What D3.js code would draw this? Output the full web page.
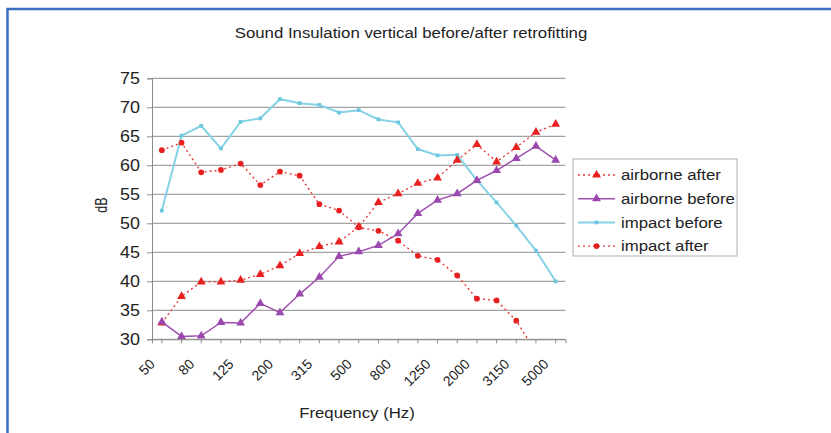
<!DOCTYPE html>
<html><head><meta charset="utf-8">
<script src="https://cdn.jsdelivr.net/npm/d3@7"></script>
<style>
body{margin:0;background:#fff;}
svg{display:block;font-family:Arial,"Liberation Sans",sans-serif;}
</style></head>
<body>
<svg id="c" width="831" height="433"></svg>
<script>
const categories = ["50","63","80","100","125","160","200","250","315","400","500","630","800","1000","1250","1600","2000","2500","3150","4000","5000"];
const tickLabels = ["50","80","125","200","315","500","800","1250","2000","3150","5000"];
const yTicks = [30,35,40,45,50,55,60,65,70,75];
const airborneAfter  = [32.8,37.4,39.9,39.9,40.2,41.2,42.7,44.8,46.0,46.8,49.4,53.6,55.1,56.9,57.8,60.9,63.6,60.6,63.1,65.7,67.1];
const airborneBefore = [33.0,30.5,30.6,32.9,32.8,36.2,34.6,37.8,40.7,44.3,45.1,46.2,48.2,51.7,54.0,55.1,57.4,59.1,61.2,63.3,60.9];
const impactBefore   = [52.2,65.1,66.8,62.9,67.5,68.1,71.4,70.7,70.4,69.1,69.5,67.9,67.4,62.8,61.7,61.8,57.4,53.6,49.6,45.3,40.0];
const impactAfter    = [62.6,63.9,58.8,59.2,60.3,56.6,58.9,58.2,53.3,52.2,49.3,48.7,47.0,44.4,43.7,41.0,37.0,36.7,33.2,27.8,25.0];
const seriesNames = ["airborne after","airborne before","impact before","impact after"];

const SX = 1.12; // horizontal stretch of the reference picture
const svg = d3.select("#c");
// frame
svg.append("rect").attr("x",7.5).attr("y",9).attr("width",840).attr("height",440)
  .attr("fill","none").attr("stroke","#3b6dbf").attr("stroke-width",2.5);

const x = d3.scaleBand().domain(categories).range([152,565.5]).padding(0);
const y = d3.scaleLinear().domain([30,75]).range([339.3,78.3]);
const cx = d => x(d) + x.bandwidth()/2;

function stext(g, tx, ty, anchor, size, str){
  return g.append("text").attr("transform",`translate(${tx},${ty}) scale(${SX},1)`)
    .attr("text-anchor",anchor).attr("font-size",size).attr("fill","#222").text(str);
}

// title
stext(svg, 411, 38, "middle", 15, "Sound Insulation vertical before/after retrofitting");

// grid
svg.append("g").selectAll("line").data(yTicks).join("line")
  .attr("x1",152).attr("x2",565.5).attr("y1",d=>y(d)).attr("y2",d=>y(d))
  .attr("stroke","#8c8c8c").attr("stroke-width",1);

// y axis
const ya = svg.append("g").attr("transform","translate(152,0)")
  .call(d3.axisLeft(y).tickValues(yTicks).tickSize(5).tickFormat(""));
ya.select(".domain").attr("stroke","#8c8c8c");
ya.selectAll(".tick line").attr("stroke","#8c8c8c");
const yl = svg.append("g");
yTicks.forEach(v=>{
  stext(yl, 140, y(v), "end", 16, String(v)).attr("dy","0.36em");
});

// x axis
const xa = svg.append("g").attr("transform","translate(0,339.3)")
  .call(d3.axisBottom(x).tickValues(categories).tickSize(4).tickFormat(""));
xa.select(".domain").attr("stroke","#8c8c8c");
xa.selectAll(".tick line").attr("stroke","#8c8c8c");
svg.append("g").selectAll("text").data(tickLabels).join("text")
  .attr("transform",d=>`translate(${cx(d)-9.5},361.5) rotate(-45)`)
  .attr("text-anchor","end").attr("dy","0.35em")
  .attr("font-size",14).attr("fill","#222").text(d=>d);

// axis titles
svg.append("text").attr("transform","translate(101.5,205) scale(1.25,1) rotate(-90)").attr("text-anchor","middle")
  .attr("dy","0.35em").attr("font-size",12.5).attr("fill","#222").text("dB");
stext(svg, 357, 418, "middle", 15, "Frequency (Hz)");

// clip
svg.append("clipPath").attr("id","pc").append("rect")
  .attr("x",140).attr("y",70).attr("width",440).attr("height",339.3-70);

const plot = svg.append("g").attr("clip-path","url(#pc)");
const line = d3.line().x((d,i)=>cx(categories[i])).y(d=>y(d));
const tri = d3.symbol().type(d3.symbolTriangle).size(34);
const dot = d3.symbol().type(d3.symbolCircle).size(26);
const sq = d3.symbol().type(d3.symbolSquare).size(14);

const specs = [
  {data:impactBefore, color:"#85d2e6", dash:null, width:2, sym:sq, fill:"#6cc8de"},
  {data:impactAfter, color:"#e83a3a", dash:"2,3", width:1.4, sym:dot, fill:"#e82020"},
  {data:airborneAfter, color:"#e83a3a", dash:"2,3", width:1.4, sym:tri, fill:"#e82020"},
  {data:airborneBefore, color:"#a050b0", dash:null, width:1.5, sym:tri, fill:"#9a48ae"}
];
specs.forEach(s=>{
  plot.append("path").attr("d",line(s.data)).attr("fill","none")
    .attr("stroke",s.color).attr("stroke-width",s.width)
    .attr("stroke-dasharray",s.dash);
  plot.append("g").selectAll("path").data(s.data).join("path")
    .attr("transform",(d,i)=>`translate(${cx(categories[i])},${y(d)})`)
    .attr("d",s.sym()).attr("fill",s.fill);
});

// legend
const lg = svg.append("g");
lg.append("rect").attr("x",573).attr("y",159).attr("width",164).attr("height",97)
  .attr("fill","#fff").attr("stroke","#b0b0b0").attr("stroke-width",1);
const legendOrder = [2,3,0,1];
legendOrder.forEach((si,i)=>{
  const s = specs[si];
  const yy = 175 + i*23.7;
  lg.append("line").attr("x1",578).attr("x2",615).attr("y1",yy).attr("y2",yy)
    .attr("stroke",s.color).attr("stroke-width",s.width).attr("stroke-dasharray",s.dash);
  lg.append("path").attr("transform",`translate(596.5,${yy})`).attr("d",s.sym()).attr("fill",s.fill);
  stext(lg, 621, yy, "start", 15, seriesNames[i]).attr("dy","0.35em");
});
</script>
</body></html>
